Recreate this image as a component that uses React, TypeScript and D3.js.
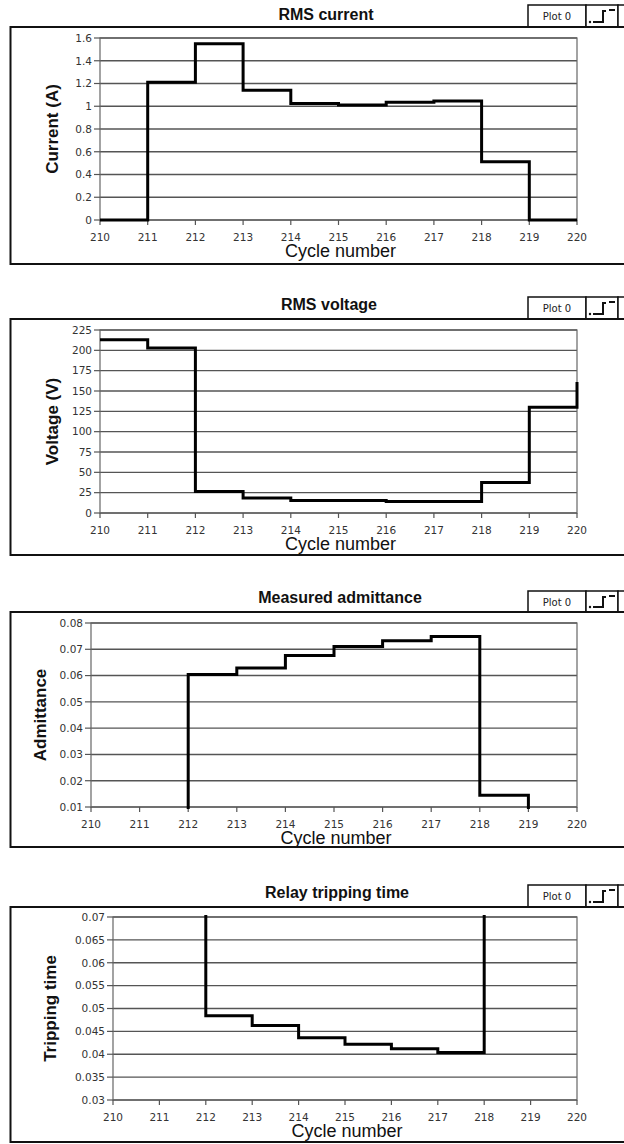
import React from "react";
import * as d3 from "d3";

const cycles = [210, 211, 212, 213, 214, 215, 216, 217, 218, 219, 220];
const xTicks = [210, 211, 212, 213, 214, 215, 216, 217, 218, 219, 220];

const currentValues = [0, 1.21, 1.55, 1.14, 1.025, 1.012, 1.036, 1.047, 0.512, 0, 0];
const voltageValues = [213, 203, 26.5, 18.5, 15.5, 15.5, 14, 14, 37.5, 130, 161];
const admittanceValues = [0, 0, 0.0604, 0.0629, 0.0676, 0.0711, 0.0732, 0.0749, 0.0145, 0, 0];
const trippingValues = [0.1, 0.1, 0.0484, 0.0463, 0.0436, 0.0422, 0.0412, 0.0404, 0.1, 0.1, 0.1];

const currentTicks = [0, 0.2, 0.4, 0.6, 0.8, 1, 1.2, 1.4, 1.6];
const voltageTicks = [0, 25, 50, 75, 100, 125, 150, 175, 200, 225];
const admittanceTicks = [0.01, 0.02, 0.03, 0.04, 0.05, 0.06, 0.07, 0.08];
const trippingTicks = [0.03, 0.035, 0.04, 0.045, 0.05, 0.055, 0.06, 0.065, 0.07];

const titles = ["RMS current", "RMS voltage", "Measured admittance", "Relay tripping time"];
const yTitles = ["Current (A)", "Voltage (V)", "Admittance", "Tripping time"];
const xTitle = "Cycle number";
const legendLabel = "Plot 0";

type PanelCfg = {
  id: string;
  title: string;
  yTitle: string;
  values: number[];
  ticks: number[];
  boxTop: number;
  boxBottom: number;
  plotTop: number;
  plotBottom: number;
  plotLeft: number;
  titleY: number;
  titleX: number;
  legendTop: number;
  yTitleX: number;
};

const panels: PanelCfg[] = [
  { id: "p1", title: titles[0], yTitle: yTitles[0], values: currentValues, ticks: currentTicks,
    boxTop: 27, boxBottom: 264, plotTop: 38, plotBottom: 220, plotLeft: 100, titleY: 20, titleX: 326, legendTop: 5, yTitleX: 52 },
  { id: "p2", title: titles[1], yTitle: yTitles[1], values: voltageValues, ticks: voltageTicks,
    boxTop: 319, boxBottom: 555, plotTop: 330, plotBottom: 513, plotLeft: 100, titleY: 310, titleX: 329, legendTop: 297, yTitleX: 52 },
  { id: "p3", title: titles[2], yTitle: yTitles[2], values: admittanceValues, ticks: admittanceTicks,
    boxTop: 612, boxBottom: 847, plotTop: 623, plotBottom: 807, plotLeft: 91, titleY: 603, titleX: 340, legendTop: 591, yTitleX: 40 },
  { id: "p4", title: titles[3], yTitle: yTitles[3], values: trippingValues, ticks: trippingTicks,
    boxTop: 907, boxBottom: 1142, plotTop: 917, plotBottom: 1100, plotLeft: 113, titleY: 898, titleX: 337, legendTop: 885, yTitleX: 50 },
];

const PLOT_RIGHT = 577;
const tickFont = "'DejaVu Sans', sans-serif";
const labelFont = "'Liberation Sans', Arial, sans-serif";

function Panel({ cfg }: { cfg: PanelCfg }) {
  const x = d3.scaleLinear().domain([210, 220]).range([cfg.plotLeft, PLOT_RIGHT]);
  const y = d3
    .scaleLinear()
    .domain([cfg.ticks[0], cfg.ticks[cfg.ticks.length - 1]])
    .range([cfg.plotBottom, cfg.plotTop]);
  const line = d3
    .line<number>()
    .x((_, i) => x(cycles[i]))
    .y((d) => y(d))
    .curve(d3.curveStepAfter);
  const fmt = (v: number) => String(+v.toFixed(4));
  const lt = cfg.legendTop;
  const lh = cfg.boxTop - cfg.legendTop;
  return (
    <g>
      <defs>
        <clipPath id={"clip-" + cfg.id}>
          <rect x={cfg.plotLeft - 2} y={cfg.plotTop - 2} width={PLOT_RIGHT - cfg.plotLeft + 4} height={cfg.plotBottom - cfg.plotTop + 4} />
        </clipPath>
      </defs>
      {/* title */}
      <text x={cfg.titleX} y={cfg.titleY} textAnchor="middle" fontFamily={labelFont} fontWeight="bold" fontSize={16} fill="#111">
        {cfg.title}
      </text>
      {/* legend */}
      <rect x={528} y={lt} width={58} height={lh} fill="#fff" stroke="#111" strokeWidth={1.5} />
      <rect x={586} y={lt} width={32} height={lh} fill="#fff" stroke="#111" strokeWidth={1.5} />
      <rect x={618} y={lt} width={20} height={lh} fill="#fff" stroke="#111" strokeWidth={1.5} />
      <text x={557} y={lt + lh / 2 + 4} textAnchor="middle" fontFamily={tickFont} fontSize={10} fill="#222">
        {legendLabel}
      </text>
      <circle cx={590} cy={lt + lh - 5} r={1.2} fill="#111" />
      <path d={`M593,${lt + lh - 5} H603 V${lt + 6} H606`} fill="none" stroke="#111" strokeWidth={2} />
      <path d={`M609,${lt + 5} H615`} fill="none" stroke="#111" strokeWidth={2} />
      {/* panel box */}
      <rect x={10.5} y={cfg.boxTop} width={640} height={cfg.boxBottom - cfg.boxTop} fill="none" stroke="#111" strokeWidth={2} />
      {/* gridlines */}
      {cfg.ticks.map((t, i) => (
        <line key={"g" + i} x1={cfg.plotLeft} x2={PLOT_RIGHT} y1={y(t)} y2={y(t)} stroke="#555" strokeWidth={1.4} />
      ))}
      {/* plot border */}
      <rect x={cfg.plotLeft} y={cfg.plotTop} width={PLOT_RIGHT - cfg.plotLeft} height={cfg.plotBottom - cfg.plotTop} fill="none" stroke="#666" strokeWidth={1.2} />
      {/* y ticks */}
      {cfg.ticks.map((t, i) => (
        <g key={"yt" + i}>
          <line x1={cfg.plotLeft - 6} x2={cfg.plotLeft} y1={y(t)} y2={y(t)} stroke="#555" strokeWidth={1.2} />
          <text x={cfg.plotLeft - 8} y={y(t) + 3.8} textAnchor="end" fontFamily={tickFont} fontSize={10.5} fill="#333">
            {fmt(t)}
          </text>
        </g>
      ))}
      {/* x ticks */}
      {xTicks.map((t, i) => (
        <g key={"xt" + i}>
          <line x1={x(t)} x2={x(t)} y1={cfg.plotBottom} y2={cfg.plotBottom + 5} stroke="#555" strokeWidth={1.2} />
          <text x={x(t)} y={cfg.plotBottom + 21} textAnchor="middle" fontFamily={tickFont} fontSize={10.5} fill="#333">
            {t}
          </text>
        </g>
      ))}
      {/* axis titles */}
      <text x={(cfg.plotLeft + PLOT_RIGHT) / 2 + 2} y={cfg.plotBottom + 37} textAnchor="middle" fontFamily={labelFont} fontSize={18} fill="#111">
        {xTitle}
      </text>
      <text
        transform={`translate(${cfg.yTitleX},${(cfg.plotTop + cfg.plotBottom) / 2}) rotate(-90)`}
        textAnchor="middle"
        dominantBaseline="central"
        fontFamily={labelFont}
        fontWeight="bold"
        fontSize={17}
        fill="#111"
      >
        {cfg.yTitle}
      </text>
      {/* data */}
      <path d={line(cfg.values) || ""} fill="none" stroke="#000" strokeWidth={3} clipPath={`url(#clip-${cfg.id})`} />
    </g>
  );
}

export default function App() {
  return (
    <svg
      width={624}
      height={1144}
      style={{ position: "absolute", left: 0, top: 0, background: "#fff" }}
    >
      <rect x={0} y={0} width={624} height={1144} fill="#fff" />
      {panels.map((p) => (
        <Panel key={p.id} cfg={p} />
      ))}
    </svg>
  );
}
